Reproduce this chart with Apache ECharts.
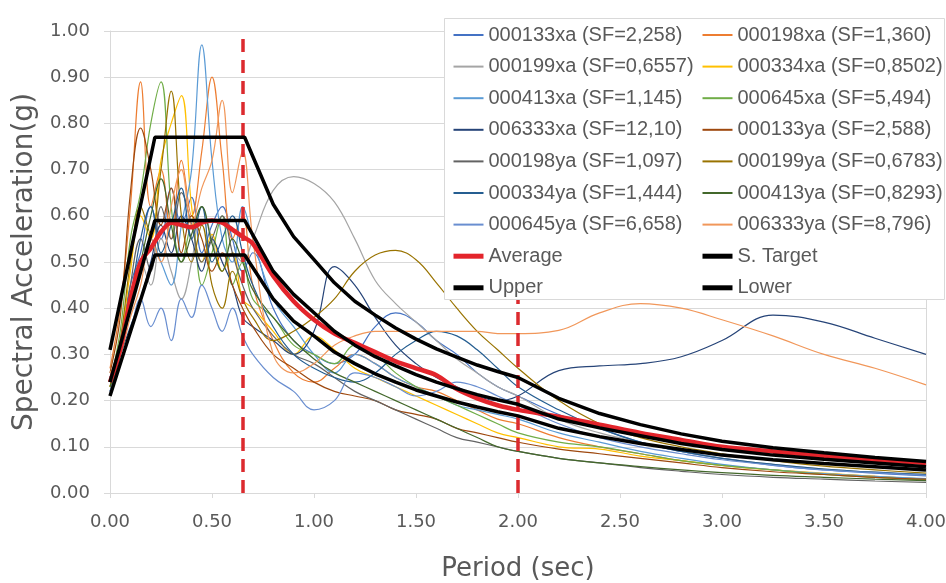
<!DOCTYPE html>
<html>
<head>
    <meta charset="UTF-8">
    <title>Spectral Acceleration</title>
    <style>
        html, body { margin: 0; padding: 0; background: #fff; }
        #main { width: 946px; height: 583px; }
    </style>
</head>
<body>
<div id="main"></div>
<script src="https://cdn.jsdelivr.net/npm/echarts@6/dist/echarts.min.js"></script>
<script>
// periods (sec) shared by all records and the average
var periods = [0, 0.05, 0.1, 0.15, 0.2, 0.25, 0.3, 0.35, 0.4, 0.45, 0.5, 0.55, 0.6, 0.65, 0.7,
    0.8, 0.9, 1.0, 1.1, 1.2, 1.3, 1.4, 1.5, 1.6, 1.7, 1.8, 1.9, 2.0,
    2.2, 2.4, 2.6, 2.8, 3.0, 3.25, 3.5, 3.75, 4.0];

var sa000133xa = [0.25,0.33,0.45,0.52,0.62,0.55,0.66,0.58,0.64,0.52,0.58,0.62,0.55,0.48,0.52,
    0.40,0.33,0.30,0.28,0.30,0.36,0.39,0.37,0.33,0.30,0.26,0.23,0.21,
    0.17,0.14,0.11,0.09,0.075,0.06,0.05,0.043,0.037];
var sa000198xa = [0.27,0.40,0.62,0.89,0.62,0.70,0.55,0.72,0.60,0.74,0.90,0.72,0.55,0.60,0.45,
    0.33,0.26,0.24,0.27,0.30,0.28,0.25,0.23,0.22,0.20,0.18,0.16,0.15,
    0.12,0.10,0.085,0.07,0.06,0.05,0.042,0.036,0.03];
var sa000199xa = [0.24,0.30,0.42,0.50,0.45,0.55,0.48,0.42,0.50,0.62,0.55,0.48,0.52,0.50,0.55,
    0.655,0.685,0.67,0.63,0.55,0.46,0.41,0.37,0.33,0.29,0.26,0.23,0.21,
    0.16,0.13,0.11,0.09,0.075,0.062,0.052,0.045,0.04];
var sa000334xa = [0.23,0.32,0.48,0.60,0.55,0.72,0.80,0.86,0.62,0.50,0.56,0.48,0.52,0.42,0.40,
    0.35,0.30,0.34,0.31,0.27,0.25,0.23,0.21,0.19,0.17,0.15,0.13,0.12,
    0.10,0.095,0.08,0.07,0.06,0.05,0.043,0.036,0.03];
var sa000413xa = [0.22,0.30,0.40,0.48,0.55,0.50,0.45,0.58,0.70,0.97,0.72,0.55,0.50,0.62,0.55,
    0.42,0.36,0.30,0.26,0.30,0.28,0.25,0.23,0.21,0.19,0.18,0.17,0.16,
    0.13,0.11,0.09,0.075,0.062,0.05,0.042,0.036,0.031];
var sa000645xa = [0.24,0.35,0.55,0.65,0.80,0.89,0.62,0.50,0.58,0.45,0.52,0.60,0.45,0.50,0.42,
    0.38,0.32,0.30,0.28,0.32,0.30,0.26,0.23,0.21,0.19,0.17,0.15,0.13,
    0.11,0.10,0.085,0.07,0.06,0.05,0.04,0.034,0.028];
var sa006333xa = [0.25,0.30,0.36,0.42,0.50,0.58,0.52,0.60,0.55,0.48,0.55,0.50,0.45,0.38,0.36,
    0.33,0.30,0.35,0.49,0.45,0.38,0.32,0.28,0.25,0.23,0.21,0.20,0.21,
    0.265,0.275,0.28,0.295,0.33,0.385,0.37,0.335,0.30];
var sa000133ya = [0.26,0.38,0.65,0.79,0.70,0.58,0.66,0.52,0.60,0.55,0.48,0.52,0.45,0.40,0.36,
    0.30,0.27,0.24,0.22,0.21,0.20,0.18,0.17,0.16,0.14,0.13,0.12,0.11,
    0.095,0.085,0.075,0.065,0.055,0.046,0.04,0.034,0.03];
var sa000198ya = [0.22,0.30,0.45,0.55,0.48,0.62,0.55,0.65,0.58,0.50,0.55,0.60,0.52,0.45,0.40,
    0.34,0.30,0.28,0.25,0.22,0.20,0.18,0.16,0.14,0.12,0.11,0.10,0.09,
    0.075,0.065,0.055,0.047,0.04,0.034,0.03,0.026,0.023];
var sa000199ya = [0.23,0.33,0.50,0.62,0.56,0.70,0.87,0.60,0.50,0.58,0.45,0.40,0.48,0.42,0.38,
    0.33,0.35,0.38,0.42,0.48,0.515,0.525,0.505,0.455,0.40,0.35,0.31,0.27,
    0.20,0.15,0.12,0.10,0.085,0.07,0.058,0.05,0.043];
var sa000334ya = [0.24,0.32,0.42,0.55,0.62,0.52,0.58,0.66,0.55,0.62,0.50,0.55,0.60,0.52,0.45,
    0.36,0.30,0.27,0.25,0.24,0.26,0.30,0.33,0.35,0.34,0.31,0.27,0.23,
    0.18,0.14,0.11,0.09,0.075,0.062,0.052,0.045,0.04];
var sa000413ya = [0.23,0.30,0.42,0.50,0.60,0.68,0.58,0.50,0.56,0.62,0.54,0.48,0.55,0.50,0.44,
    0.38,0.33,0.29,0.26,0.24,0.22,0.20,0.18,0.16,0.14,0.12,0.10,0.09,
    0.075,0.065,0.057,0.05,0.044,0.038,0.034,0.03,0.027];
var sa000645ya = [0.22,0.28,0.35,0.42,0.36,0.40,0.33,0.42,0.38,0.45,0.40,0.35,0.40,0.34,0.30,
    0.25,0.22,0.18,0.20,0.26,0.25,0.23,0.21,0.22,0.24,0.23,0.21,0.19,
    0.15,0.12,0.10,0.085,0.072,0.06,0.05,0.044,0.038];
var sa006333ya = [0.26,0.30,0.38,0.45,0.55,0.50,0.62,0.70,0.58,0.66,0.72,0.85,0.65,0.74,0.55,
    0.30,0.26,0.28,0.32,0.34,0.35,0.35,0.35,0.35,0.35,0.35,0.345,0.345,
    0.352,0.39,0.41,0.40,0.375,0.34,0.30,0.27,0.234];

var average = [0.24,0.31,0.42,0.50,0.53,0.565,0.585,0.58,0.575,0.585,0.59,0.585,0.57,0.555,0.54,
    0.47,0.415,0.375,0.345,0.325,0.305,0.285,0.27,0.255,0.225,0.205,0.19,0.18,
    0.165,0.148,0.13,0.115,0.10,0.09,0.08,0.072,0.065];

// design spectrum and its limits
var targetPeriods = [0, 0.22, 0.66, 0.8, 0.9, 1.0, 1.1, 1.2, 1.3, 1.4, 1.5, 1.6, 1.7, 1.8, 1.9, 2.0,
    2.2, 2.4, 2.6, 2.8, 3.0, 3.25, 3.5, 3.75, 4.0];
var target = [0.24, 0.59, 0.59, 0.48, 0.43, 0.39, 0.35, 0.32, 0.295, 0.275, 0.256, 0.24, 0.226, 0.213, 0.202, 0.192,
    0.16, 0.141, 0.124, 0.107, 0.094, 0.082, 0.073, 0.065, 0.057];
var upper = [0.31, 0.77, 0.77, 0.625, 0.555, 0.505, 0.455, 0.415, 0.385, 0.357, 0.333, 0.312, 0.294, 0.277, 0.263, 0.25,
    0.205, 0.172, 0.148, 0.128, 0.112, 0.098, 0.087, 0.077, 0.068];
var lower = [0.21, 0.515, 0.515, 0.42, 0.372, 0.34, 0.305, 0.28, 0.258, 0.24, 0.223, 0.21, 0.197, 0.186, 0.176, 0.167,
    0.14, 0.122, 0.107, 0.094, 0.082, 0.072, 0.064, 0.057, 0.05];

var dividers = [0.65, 2.0];

var recordNames = ['000133xa (SF=2,258)', '000198xa (SF=1,360)', '000199xa (SF=0,6557)', '000334xa (SF=0,8502)',
    '000413xa (SF=1,145)', '000645xa (SF=5,494)', '006333xa (SF=12,10)', '000133ya (SF=2,588)',
    '000198ya (SF=1,097)', '000199ya (SF=0,6783)', '000334ya (SF=1,444)', '000413ya (SF=0,8293)',
    '000645ya (SF=6,658)', '006333ya (SF=8,796)'];
var recordValues = [sa000133xa, sa000198xa, sa000199xa, sa000334xa, sa000413xa, sa000645xa, sa006333xa,
    sa000133ya, sa000198ya, sa000199ya, sa000334ya, sa000413ya, sa000645ya, sa006333ya];
var recordColors = ['#4472C4', '#ED7D31', '#A5A5A5', '#FFC000', '#5B9BD5', '#70AD47', '#264478',
    '#9E480E', '#636363', '#997300', '#255E91', '#43682B', '#698ED0', '#F1975A'];
var envelopeNames = ['Average', 'S. Target', 'Upper', 'Lower'];

// legend in two columns, filled row by row; thick icons for the envelope lines
var legendLeft = [], legendRight = [];
recordNames.concat(envelopeNames).forEach(function (n, i) {
    var item = { name: n };
    if (envelopeNames.indexOf(n) >= 0) {
        item.lineStyle = { width: 5 };
    }
    (i % 2 === 0 ? legendLeft : legendRight).push(item);
});

function pairs(xs, ys) {
    return xs.map(function (x, i) { return [x, ys[i]]; });
}

var series = [];
recordNames.forEach(function (name, i) {
    series.push({
        name: name,
        type: 'line',
        data: pairs(periods, recordValues[i]),
        smooth: 0.4,
        symbol: 'none',
        lineStyle: { width: 1.2, color: recordColors[i] },
        itemStyle: { color: recordColors[i] },
        z: 2
    });
});
series.push({
    name: 'Average', type: 'line', data: pairs(periods, average), smooth: 0.3, symbol: 'none',
    lineStyle: { width: 4.5, color: '#E3242B' }, itemStyle: { color: '#E3242B' }, z: 3
});
[['S. Target', target], ['Upper', upper], ['Lower', lower]].forEach(function (s) {
    series.push({
        name: s[0], type: 'line', data: pairs(targetPeriods, s[1]), symbol: 'none',
        lineStyle: { width: 3.5, color: '#000' }, itemStyle: { color: '#000' }, z: 3
    });
});
// red dashed limits
series.push({
    name: 'limits', type: 'line', data: [], z: 3,
    markLine: {
        silent: true, symbol: 'none', label: { show: false }, z: 3,
        lineStyle: { color: '#DC2A2E', width: 3.5, type: [13, 8] },
        data: dividers.map(function (d) { return { xAxis: d }; })
    }
});

var legendBase = {
    orient: 'vertical', top: 23, padding: 0, itemWidth: 30, itemHeight: 14, itemGap: 7.6, z: 10,
    itemStyle: { opacity: 0 },
    textStyle: { fontFamily: 'Liberation Sans', fontSize: 20, lineHeight: 24, color: '#595959' }
};

var myChart = echarts.init(document.getElementById('main'), null, { renderer: 'canvas' });
var option = {
    animation: false,
    backgroundColor: '#fff',
    grid: { left: 110, right: 20, top: 31, bottom: 90, outerBoundsMode: 'none' },
    legend: [
        Object.assign({}, legendBase, { left: 451, data: legendLeft }),
        Object.assign({}, legendBase, { left: 700, data: legendRight })
    ],
    graphic: {
        elements: [{
            type: 'rect', left: 444, top: 18, z: 8,
            shape: { width: 500, height: 281 },
            style: { fill: '#fff', stroke: '#d9d9d9', lineWidth: 1 }
        }]
    },
    xAxis: {
        type: 'value', min: 0, max: 4, interval: 0.5,
        name: 'Period (sec)', nameLocation: 'middle', nameGap: 63,
        nameTextStyle: { fontFamily: 'DejaVu Sans', fontSize: 26, color: '#595959' },
        axisLine: { show: true, lineStyle: { color: '#d9d9d9', width: 1 } },
        axisTick: { show: true, length: 5, lineStyle: { color: '#d9d9d9' } },
        axisLabel: { fontFamily: 'DejaVu Sans', fontSize: 18, color: '#595959', margin: 20,
            formatter: function (v) { return v.toFixed(2); } },
        splitLine: { show: false }
    },
    yAxis: [{
        type: 'value', min: 0, max: 1, interval: 0.1,
        name: 'Spectral Acceleration(g)', nameLocation: 'middle', nameGap: 67,
        nameTextStyle: { fontFamily: 'DejaVu Sans', fontSize: 28, color: '#595959' },
        axisLine: { show: true, lineStyle: { color: '#d9d9d9', width: 1 } },
        axisTick: { show: true, length: 6, lineStyle: { color: '#d9d9d9' } },
        axisLabel: { fontFamily: 'DejaVu Sans', fontSize: 18, color: '#595959', margin: 20,
            formatter: function (v) { return v.toFixed(2); } },
        splitLine: { lineStyle: { color: '#d9d9d9', width: 1 } }
    }, {
        type: 'value', min: 0, max: 1, position: 'right',
        axisLine: { show: true, lineStyle: { color: '#d9d9d9', width: 1 } },
        axisTick: { show: false }, axisLabel: { show: false }, splitLine: { show: false }
    }],
    series: series
};
myChart.setOption(option);
</script>
</body>
</html>
